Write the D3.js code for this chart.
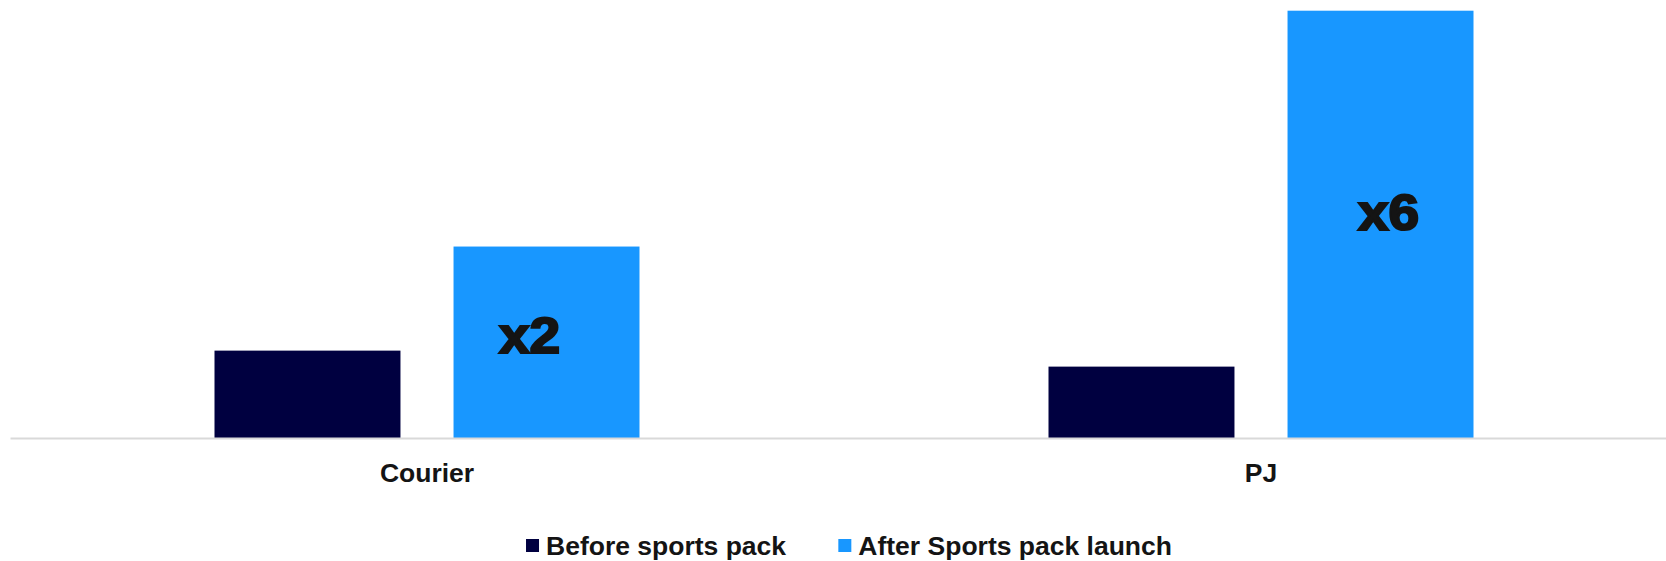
<!DOCTYPE html>
<meta charset="utf-8">
<style>
body { margin: 0; background: #fff; }
svg text { font-family: "Liberation Sans", Arial, sans-serif; font-weight: bold; fill: #141414; }
.axis path { stroke: #d9d9d9; stroke-width: 2; }
.axis text { font-size: 26.5px; }
.legend text { font-size: 26.5px; }
.mult { font-size: 50px; stroke: #141414; stroke-width: 2.2; }
</style>
<body>
<svg width="1666" height="561"></svg>
<script src="https://d3js.org/d3.v7.min.js"></script>
<script>

var categories = ["Courier", "PJ"];
var series = ["Before sports pack", "After Sports pack launch"];
var before = [8.74, 7.14];
var after = [19.15, 42.74];
var multipliers = ["x2", "x6"];
var colors = ["#000040", "#1897ff"];

var svg = d3.select("svg"),
    width = +svg.attr("width"),
    height = +svg.attr("height");

var baseY = 438;

var x0 = d3.scaleBand()
    .domain(categories)
    .range([10, 1678]);

// bars sit in the middle of each band (gap width ~220%)
var groupW = 425;
var x1 = d3.scaleBand()
    .domain(series)
    .range([(x0.bandwidth() - groupW) / 2, (x0.bandwidth() + groupW) / 2])
    .paddingInner(0.222);

var y = d3.scaleLinear()
    .domain([0, 42.75])
    .range([baseY, 10.6]);

// labels were dragged a bit off-centre in the original
var labelNudge = [[-17, -7], [8, -12]];

var rows = categories.map(function(c, i) {
  return { cat: c, values: [before[i], after[i]], mult: multipliers[i], i: i };
});

var g = svg.selectAll(".grp")
  .data(rows)
  .enter().append("g")
    .attr("class", "grp")
    .attr("transform", function(d) { return "translate(" + x0(d.cat) + ",0)"; });

g.selectAll("rect")
  .data(function(d) { return d.values.map(function(v, j) { return { s: series[j], v: v, j: j }; }); })
  .enter().append("rect")
    .attr("x", function(d) { return x1(d.s); })
    .attr("y", function(d) { return y(d.v); })
    .attr("width", x1.bandwidth())
    .attr("height", function(d) { return baseY - y(d.v); })
    .attr("fill", function(d) { return colors[d.j]; });

g.append("text")
    .attr("class", "mult")
    .attr("text-anchor", "middle")
    .attr("transform", function(d) {
      var cx = x1(series[1]) + x1.bandwidth() / 2 + labelNudge[d.i][0],
          cy = (y(d.values[1]) + baseY) / 2 + labelNudge[d.i][1];
      return "translate(" + cx + "," + cy + ") scale(1.1,1)";
    })
    .attr("dy", "0.35em")
    .text(function(d) { return d.mult; });

var axis = svg.append("g")
    .attr("class", "axis")
    .attr("transform", "translate(0," + baseY + ")")
    .call(d3.axisBottom(x0).tickSize(0).tickPadding(25));
axis.selectAll("text").attr("fill", "#141414");

// legend
var legend = svg.append("g").attr("class", "legend");
var items = legend.selectAll("g")
  .data(series)
  .enter().append("g");
items.append("rect")
    .attr("width", 13).attr("height", 13)
    .attr("y", -7)
    .attr("fill", function(d, i) { return colors[i]; });
items.append("text")
    .attr("x", 20)
    .attr("dy", "0.35em")
    .text(function(d) { return d; });

var xpos = 0;
items.each(function() {
  var w = this.getBBox().width;
  d3.select(this).attr("transform", "translate(" + xpos + ",0)");
  xpos += w + 52;
});
var total = xpos - 52;
legend.attr("transform", "translate(" + (849 - total / 2) + ",546)");

</script>
</body>
